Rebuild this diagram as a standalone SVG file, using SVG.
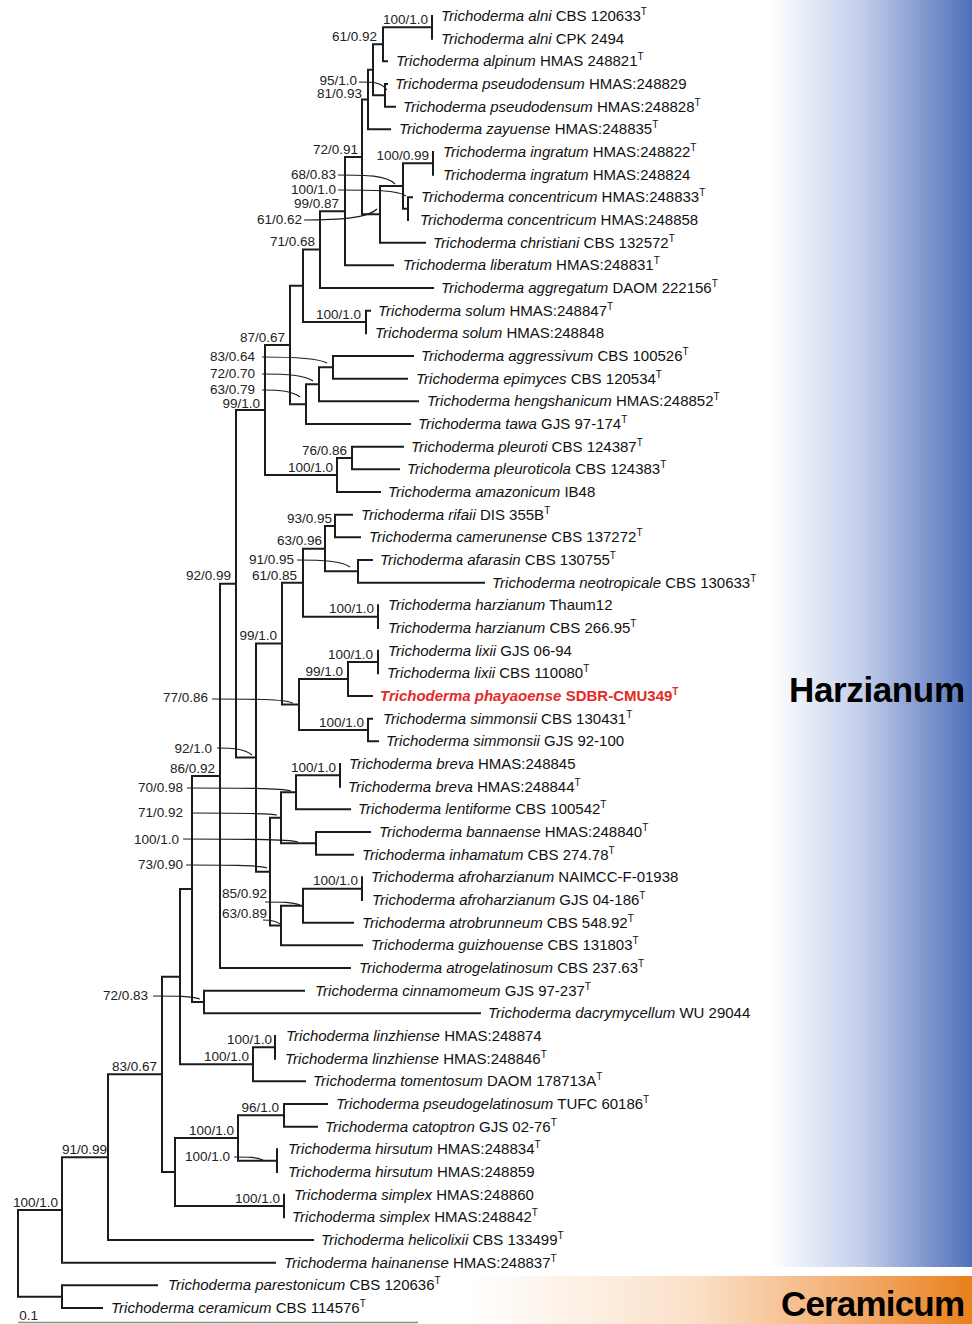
<svg xmlns="http://www.w3.org/2000/svg" width="972" height="1324" viewBox="0 0 972 1324">
<defs>
<linearGradient id="gBlue" x1="770" y1="0" x2="972" y2="0" gradientUnits="userSpaceOnUse">
<stop offset="0" stop-color="#ffffff"/><stop offset="0.45" stop-color="#c3cfeb"/><stop offset="1" stop-color="#5070ba"/>
</linearGradient>
<linearGradient id="gOrange" x1="470" y1="0" x2="972" y2="0" gradientUnits="userSpaceOnUse">
<stop offset="0" stop-color="#ffffff"/><stop offset="0.45" stop-color="#fbe0c8"/><stop offset="0.8" stop-color="#f1a663"/><stop offset="1" stop-color="#e8801c"/>
</linearGradient>
<style>
.br{fill:none;stroke:#1c1c1c;stroke-width:2;stroke-linecap:square}
.pt{fill:none;stroke:#1c1c1c;stroke-width:1.2}
.tx{font-family:"Liberation Sans",Arial,sans-serif;font-size:15px;fill:#111}
.it{font-style:italic}
.sup{font-size:10px}
.red{fill:#e32b26;font-weight:bold}
.sv{font-family:"Liberation Sans",Arial,sans-serif;font-size:13.5px;fill:#222;text-anchor:end}
.clade{font-family:"Liberation Sans",Arial,sans-serif;font-size:35px;font-weight:bold;fill:#000}
</style>
</defs>
<rect x="770" y="0" width="202" height="1267" fill="url(#gBlue)"/>
<rect x="470" y="1276" width="502" height="48" fill="url(#gOrange)"/>

<g id="connectors">
<path class="br" d="
M18 1210V1296.7 M18 1210H62 M18 1296.7H62
M62 1285.3V1308 M62 1285.3H157 M62 1308H102
M62 1157.2V1262.7 M62 1157.2H108 M62 1262.7H275
M108 1074.3V1240 M108 1074.3H162 M108 1240H313
M162 976.7V1172 M162 976.7H180 M162 1172H175
M175 1138V1206 M175 1138H238 M175 1206H284
M284 1194.7V1217.3
M238 1115.3V1160.7 M238 1115.3H284 M238 1160.7H277
M284 1104V1126.7 M284 1104H327 M284 1126.7H317
M277 1149.3V1172
M180 889V1064.3 M180 889H192 M180 1064.3H253
M253 1047.3V1081.3 M253 1047.3H275 M253 1081.3H305
M275 1036V1058.7
M192 775.9V1002 M192 775.9H220 M192 1002H204
M204 990.7V1013.3 M204 990.7H304 M204 1013.3H480
M220 583.8V968 M220 583.8H236 M220 968H350
M236 410V757.6 M236 410H265 M236 757.6H256
M265 345V475 M265 345H290 M265 475H337
M337 458V492 M337 458H352 M337 492H380
M352 446.7V469.3 M352 446.7H403 M352 469.3H399
M290 285.8V404.2 M290 285.8H303 M290 404.2H306
M306 384.3V424 M306 384.3H319 M306 424H410
M319 367.3V401.3 M319 367.3H333 M319 401.3H418
M333 356V378.7 M333 356H413 M333 378.7H407
M303 249.6V322 M303 249.6H320 M303 322H366
M366 310.7V333.3 M366 310.7H370
M320 211.2V288 M320 211.2H345 M320 288H433
M345 157V265.3 M345 157H362 M345 265.3H393
M362 99.6V214.3 M362 99.6H368 M362 214.3H380
M380 186V242.7 M380 186H403 M380 242.7H425
M403 163.3V208.7 M403 163.3H433 M403 208.7H408
M433 152V174.7
M408 197.3V220 M408 197.3H412
M368 69.8V129.3 M368 69.8H373 M368 129.3H390
M373 44.3V95.3 M373 44.3H383 M373 95.3H385
M383 27.3V61.3 M383 27.3H432 M383 61.3H387
M432 16V38.7
M385 84V106.7 M385 84H387 M385 106.7H395
M256 643.6V871.7 M256 643.6H282 M256 871.7H270
M282 582.7V704.5 M282 582.7H303 M282 704.5H299
M303 548.7V616.7 M303 548.7H325 M303 616.7H378
M378 605.3V628
M325 526V571.3 M325 526H335 M325 571.3H358
M335 514.7V537.3 M335 514.7H352 M335 537.3H360
M358 560V582.7 M358 560H372 M358 582.7H484
M299 679V730 M299 679H348 M299 730H368
M348 662V696 M348 662H378 M348 696H372
M378 650.7V673.3
M368 718.7V741.3 M368 718.7H372 M368 741.3H378
M270 817.8V925.5 M270 817.8H281 M270 925.5H281
M281 792.3V843.3 M281 792.3H296 M281 843.3H316
M296 775.3V809.3 M296 775.3H340 M296 809.3H350
M340 764V786.7
M316 832V854.7 M316 832H370 M316 854.7H353
M281 905.7V945.3 M281 905.7H303 M281 945.3H362
M303 888.7V922.7 M303 888.7H362 M303 922.7H353
M362 877.3V900
"/>
<g id="pointers">
<path class="pt" d="M359 82C373 82 381 82 387 90"/>
<path class="pt" d="M338 175C366 175 386 175 395 184"/>
<path class="pt" d="M338 190C372 190 398 190 406 196"/>
<path class="pt" d="M304 220C340 220 368 218 377 209"/>
<path class="pt" d="M262 357C294 357 318 358 327 363"/>
<path class="pt" d="M262 374C288 374 304 375 313 381"/>
<path class="pt" d="M262 390C281 390 292 391 300 397"/>
<path class="pt" d="M297 560C323 560 342 561 350 567"/>
<path class="pt" d="M212 699C252 699 284 699 293 703"/>
<path class="pt" d="M217 748C234 748 245 749 252 755"/>
<path class="pt" d="M187 788C239 788 282 788 291 791"/>
<path class="pt" d="M192 813C234 813 268 813 277 815"/>
<path class="pt" d="M183 839C240 839 289 839 298 842"/>
<path class="pt" d="M186 865C226 865 258 865 267 868"/>
<path class="pt" d="M265 902C282 902 292 902 300 905"/>
<path class="pt" d="M263 920C272 920 277 921 282 925"/>
<path class="pt" d="M153 996C176 996 192 996 200 999"/>
<path class="pt" d="M234 1157C248 1157 256 1157 263 1160"/>
</g>
<path d="M18 1322.5H418" fill="none" stroke="#888" stroke-width="1.5"/>
</g>

<g id="supports">
<text class="sv" x="428" y="23.5">100/1.0</text>
<text class="sv" x="377" y="41">61/0.92</text>
<text class="sv" x="357" y="85">95/1.0</text>
<text class="sv" x="362" y="98">81/0.93</text>
<text class="sv" x="358" y="153.5">72/0.91</text>
<text class="sv" x="429" y="160">100/0.99</text>
<text class="sv" x="336" y="179">68/0.83</text>
<text class="sv" x="336" y="194">100/1.0</text>
<text class="sv" x="339" y="208">99/0.87</text>
<text class="sv" x="302" y="224">61/0.62</text>
<text class="sv" x="315" y="246">71/0.68</text>
<text class="sv" x="361" y="318.5">100/1.0</text>
<text class="sv" x="285" y="341.5">87/0.67</text>
<text class="sv" x="255" y="361">83/0.64</text>
<text class="sv" x="255" y="378">72/0.70</text>
<text class="sv" x="255" y="393.5">63/0.79</text>
<text class="sv" x="260" y="407.5">99/1.0</text>
<text class="sv" x="347" y="454.5">76/0.86</text>
<text class="sv" x="333" y="471.5">100/1.0</text>
<text class="sv" x="332" y="522.5">93/0.95</text>
<text class="sv" x="322" y="545">63/0.96</text>
<text class="sv" x="294" y="564">91/0.95</text>
<text class="sv" x="297" y="580">61/0.85</text>
<text class="sv" x="231" y="580">92/0.99</text>
<text class="sv" x="374" y="613">100/1.0</text>
<text class="sv" x="277" y="640">99/1.0</text>
<text class="sv" x="373" y="658.5">100/1.0</text>
<text class="sv" x="343" y="675.5">99/1.0</text>
<text class="sv" x="208" y="702">77/0.86</text>
<text class="sv" x="364" y="726.5">100/1.0</text>
<text class="sv" x="212" y="753">92/1.0</text>
<text class="sv" x="336" y="771.5">100/1.0</text>
<text class="sv" x="215" y="772.5">86/0.92</text>
<text class="sv" x="183" y="792">70/0.98</text>
<text class="sv" x="183" y="817">71/0.92</text>
<text class="sv" x="179" y="844">100/1.0</text>
<text class="sv" x="183" y="869">73/0.90</text>
<text class="sv" x="358" y="885">100/1.0</text>
<text class="sv" x="267" y="898">85/0.92</text>
<text class="sv" x="267" y="918">63/0.89</text>
<text class="sv" x="148" y="1000">72/0.83</text>
<text class="sv" x="272" y="1044">100/1.0</text>
<text class="sv" x="249" y="1061">100/1.0</text>
<text class="sv" x="157" y="1071">83/0.67</text>
<text class="sv" x="279" y="1112">96/1.0</text>
<text class="sv" x="234" y="1134.5">100/1.0</text>
<text class="sv" x="230" y="1161">100/1.0</text>
<text class="sv" x="280" y="1202.5">100/1.0</text>
<text class="sv" x="107" y="1154">91/0.99</text>
<text class="sv" x="58" y="1206.5">100/1.0</text>
<text class="sv" x="38" y="1320">0.1</text>
</g>

<g id="taxa">
<g id="t01"><text class="tx" x="441" y="21"><tspan class="it">Trichoderma alni</tspan> CBS 120633<tspan class="sup" dy="-6">T</tspan></text></g>
<g id="t02"><text class="tx" x="441" y="43.7"><tspan class="it">Trichoderma alni</tspan> CPK 2494</text></g>
<g id="t03"><text class="tx" x="396" y="66.3"><tspan class="it">Trichoderma alpinum</tspan> HMAS 248821<tspan class="sup" dy="-6">T</tspan></text></g>
<g id="t04"><text class="tx" x="395" y="89"><tspan class="it">Trichoderma pseudodensum</tspan> HMAS:248829</text></g>
<g id="t05"><text class="tx" x="403" y="111.7"><tspan class="it">Trichoderma pseudodensum</tspan> HMAS:248828<tspan class="sup" dy="-6">T</tspan></text></g>
<g id="t06"><text class="tx" x="399" y="134.3"><tspan class="it">Trichoderma zayuense</tspan> HMAS:248835<tspan class="sup" dy="-6">T</tspan></text></g>
<g id="t07"><text class="tx" x="443" y="157"><tspan class="it">Trichoderma ingratum</tspan> HMAS:248822<tspan class="sup" dy="-6">T</tspan></text></g>
<g id="t08"><text class="tx" x="443" y="179.7"><tspan class="it">Trichoderma ingratum</tspan> HMAS:248824</text></g>
<g id="t09"><text class="tx" x="421" y="202.3"><tspan class="it">Trichoderma concentricum</tspan> HMAS:248833<tspan class="sup" dy="-6">T</tspan></text></g>
<g id="t10"><text class="tx" x="420" y="225"><tspan class="it">Trichoderma concentricum</tspan> HMAS:248858</text></g>
<g id="t11"><text class="tx" x="433" y="247.7"><tspan class="it">Trichoderma christiani</tspan> CBS 132572<tspan class="sup" dy="-6">T</tspan></text></g>
<g id="t12"><text class="tx" x="403" y="270.3"><tspan class="it">Trichoderma liberatum</tspan> HMAS:248831<tspan class="sup" dy="-6">T</tspan></text></g>
<g id="t13"><text class="tx" x="441" y="293"><tspan class="it">Trichoderma aggregatum</tspan> DAOM 222156<tspan class="sup" dy="-6">T</tspan></text></g>
<g id="t14"><text class="tx" x="378" y="315.7"><tspan class="it">Trichoderma solum</tspan> HMAS:248847<tspan class="sup" dy="-6">T</tspan></text></g>
<g id="t15"><text class="tx" x="375" y="338.3"><tspan class="it">Trichoderma solum</tspan> HMAS:248848</text></g>
<g id="t16"><text class="tx" x="421" y="361"><tspan class="it">Trichoderma aggressivum</tspan> CBS 100526<tspan class="sup" dy="-6">T</tspan></text></g>
<g id="t17"><text class="tx" x="416" y="383.7"><tspan class="it">Trichoderma epimyces</tspan> CBS 120534<tspan class="sup" dy="-6">T</tspan></text></g>
<g id="t18"><text class="tx" x="427" y="406.3"><tspan class="it">Trichoderma hengshanicum</tspan> HMAS:248852<tspan class="sup" dy="-6">T</tspan></text></g>
<g id="t19"><text class="tx" x="418" y="429"><tspan class="it">Trichoderma tawa</tspan> GJS 97-174<tspan class="sup" dy="-6">T</tspan></text></g>
<g id="t20"><text class="tx" x="411" y="451.7"><tspan class="it">Trichoderma pleuroti</tspan> CBS 124387<tspan class="sup" dy="-6">T</tspan></text></g>
<g id="t21"><text class="tx" x="407" y="474.3"><tspan class="it">Trichoderma pleuroticola</tspan> CBS 124383<tspan class="sup" dy="-6">T</tspan></text></g>
<g id="t22"><text class="tx" x="388" y="497"><tspan class="it">Trichoderma amazonicum</tspan> IB48</text></g>
<g id="t23"><text class="tx" x="361" y="519.7"><tspan class="it">Trichoderma rifaii</tspan> DIS 355B<tspan class="sup" dy="-6">T</tspan></text></g>
<g id="t24"><text class="tx" x="369" y="542.3"><tspan class="it">Trichoderma camerunense</tspan> CBS 137272<tspan class="sup" dy="-6">T</tspan></text></g>
<g id="t25"><text class="tx" x="380" y="565"><tspan class="it">Trichoderma afarasin</tspan> CBS 130755<tspan class="sup" dy="-6">T</tspan></text></g>
<g id="t26"><text class="tx" x="492" y="587.7"><tspan class="it">Trichoderma neotropicale</tspan> CBS 130633<tspan class="sup" dy="-6">T</tspan></text></g>
<g id="t27"><text class="tx" x="388" y="610.3"><tspan class="it">Trichoderma harzianum</tspan> Thaum12</text></g>
<g id="t28"><text class="tx" x="388" y="633"><tspan class="it">Trichoderma harzianum</tspan> CBS 266.95<tspan class="sup" dy="-6">T</tspan></text></g>
<g id="t29"><text class="tx" x="388" y="655.7"><tspan class="it">Trichoderma lixii</tspan> GJS 06-94</text></g>
<g id="t30"><text class="tx" x="387" y="678.3"><tspan class="it">Trichoderma lixii</tspan> CBS 110080<tspan class="sup" dy="-6">T</tspan></text></g>
<g id="t31"><text class="tx red" x="380" y="701"><tspan class="it">Trichoderma phayaoense</tspan> SDBR-CMU349<tspan class="sup" dy="-6">T</tspan></text></g>
<g id="t32"><text class="tx" x="383" y="723.7"><tspan class="it">Trichoderma simmonsii</tspan> CBS 130431<tspan class="sup" dy="-6">T</tspan></text></g>
<g id="t33"><text class="tx" x="386" y="746.3"><tspan class="it">Trichoderma simmonsii</tspan> GJS 92-100</text></g>
<g id="t34"><text class="tx" x="349" y="769"><tspan class="it">Trichoderma breva</tspan> HMAS:248845</text></g>
<g id="t35"><text class="tx" x="348" y="791.7"><tspan class="it">Trichoderma breva</tspan> HMAS:248844<tspan class="sup" dy="-6">T</tspan></text></g>
<g id="t36"><text class="tx" x="358" y="814.3"><tspan class="it">Trichoderma lentiforme</tspan> CBS 100542<tspan class="sup" dy="-6">T</tspan></text></g>
<g id="t37"><text class="tx" x="379" y="837"><tspan class="it">Trichoderma bannaense</tspan> HMAS:248840<tspan class="sup" dy="-6">T</tspan></text></g>
<g id="t38"><text class="tx" x="362" y="859.7"><tspan class="it">Trichoderma inhamatum</tspan> CBS 274.78<tspan class="sup" dy="-6">T</tspan></text></g>
<g id="t39"><text class="tx" x="371" y="882.3"><tspan class="it">Trichoderma afroharzianum</tspan> NAIMCC-F-01938</text></g>
<g id="t40"><text class="tx" x="372" y="905"><tspan class="it">Trichoderma afroharzianum</tspan> GJS 04-186<tspan class="sup" dy="-6">T</tspan></text></g>
<g id="t41"><text class="tx" x="362" y="927.7"><tspan class="it">Trichoderma atrobrunneum</tspan> CBS 548.92<tspan class="sup" dy="-6">T</tspan></text></g>
<g id="t42"><text class="tx" x="371" y="950.3"><tspan class="it">Trichoderma guizhouense</tspan> CBS 131803<tspan class="sup" dy="-6">T</tspan></text></g>
<g id="t43"><text class="tx" x="359" y="973"><tspan class="it">Trichoderma atrogelatinosum</tspan> CBS 237.63<tspan class="sup" dy="-6">T</tspan></text></g>
<g id="t44"><text class="tx" x="315" y="995.7"><tspan class="it">Trichoderma cinnamomeum</tspan> GJS 97-237<tspan class="sup" dy="-6">T</tspan></text></g>
<g id="t45"><text class="tx" x="488" y="1018.3"><tspan class="it">Trichoderma dacrymycellum</tspan> WU 29044</text></g>
<g id="t46"><text class="tx" x="286" y="1041"><tspan class="it">Trichoderma linzhiense</tspan> HMAS:248874</text></g>
<g id="t47"><text class="tx" x="285" y="1063.7"><tspan class="it">Trichoderma linzhiense</tspan> HMAS:248846<tspan class="sup" dy="-6">T</tspan></text></g>
<g id="t48"><text class="tx" x="313" y="1086.3"><tspan class="it">Trichoderma tomentosum</tspan> DAOM 178713A<tspan class="sup" dy="-6">T</tspan></text></g>
<g id="t49"><text class="tx" x="336" y="1109"><tspan class="it">Trichoderma pseudogelatinosum</tspan> TUFC 60186<tspan class="sup" dy="-6">T</tspan></text></g>
<g id="t50"><text class="tx" x="325" y="1131.7"><tspan class="it">Trichoderma catoptron</tspan> GJS 02-76<tspan class="sup" dy="-6">T</tspan></text></g>
<g id="t51"><text class="tx" x="288" y="1154.3"><tspan class="it">Trichoderma hirsutum</tspan> HMAS:248834<tspan class="sup" dy="-6">T</tspan></text></g>
<g id="t52"><text class="tx" x="288" y="1177"><tspan class="it">Trichoderma hirsutum</tspan> HMAS:248859</text></g>
<g id="t53"><text class="tx" x="294" y="1199.7"><tspan class="it">Trichoderma simplex</tspan> HMAS:248860</text></g>
<g id="t54"><text class="tx" x="292" y="1222.3"><tspan class="it">Trichoderma simplex</tspan> HMAS:248842<tspan class="sup" dy="-6">T</tspan></text></g>
<g id="t55"><text class="tx" x="321" y="1245"><tspan class="it">Trichoderma helicolixii</tspan> CBS 133499<tspan class="sup" dy="-6">T</tspan></text></g>
<g id="t56"><text class="tx" x="284" y="1267.7"><tspan class="it">Trichoderma hainanense</tspan> HMAS:248837<tspan class="sup" dy="-6">T</tspan></text></g>
<g id="t57"><text class="tx" x="168" y="1290.3"><tspan class="it">Trichoderma parestonicum</tspan> CBS 120636<tspan class="sup" dy="-6">T</tspan></text></g>
<g id="t58"><text class="tx" x="111" y="1313"><tspan class="it">Trichoderma ceramicum</tspan> CBS 114576<tspan class="sup" dy="-6">T</tspan></text></g>
</g>

<g id="clade-harzianum"><text class="clade" x="789" y="702" textLength="176">Harzianum</text></g>
<g id="clade-ceramicum"><text class="clade" x="781" y="1316" textLength="184">Ceramicum</text></g>
</svg>
